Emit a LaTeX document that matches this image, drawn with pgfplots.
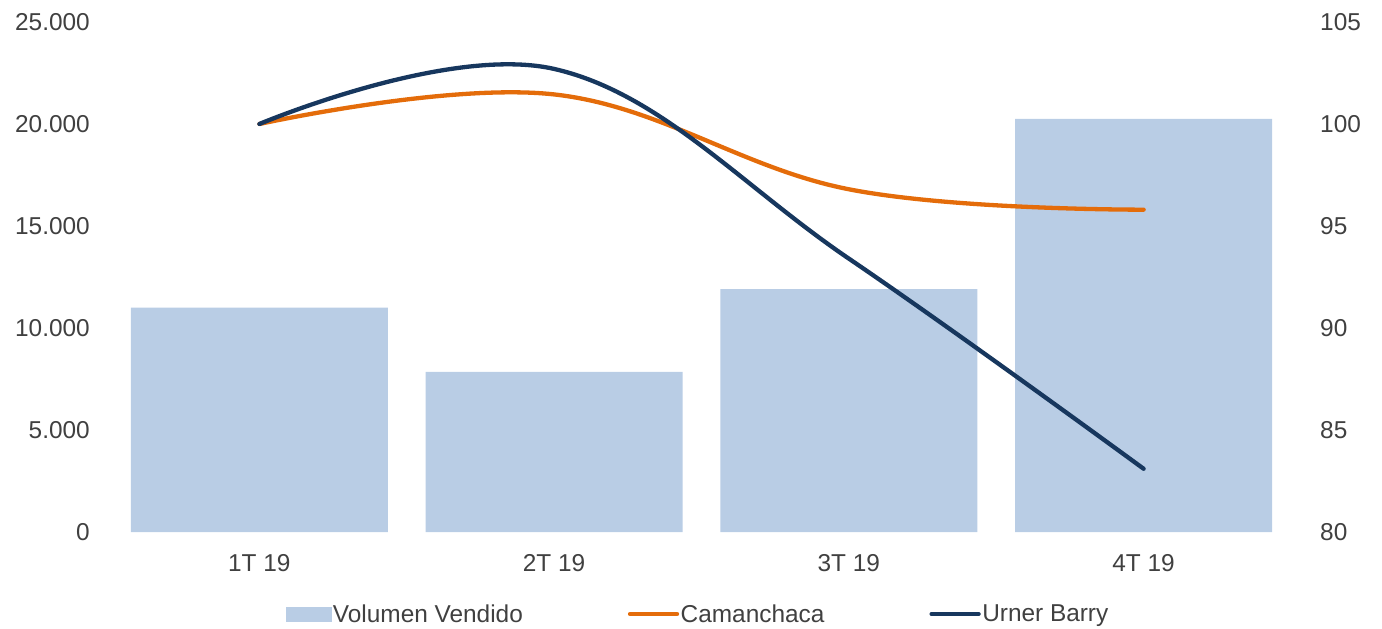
\documentclass[border=0pt]{standalone}
\usepackage{fontspec}
\setmainfont{Liberation Sans}
\usepackage{pgfplots}
\pgfplotsset{compat=1.18}
\definecolor{barc}{RGB}{185,205,229}
\definecolor{camc}{RGB}{228,108,10}
\definecolor{urnc}{RGB}{23,55,94}
\definecolor{txt}{RGB}{64,64,64}
\begin{document}
\begin{tikzpicture}[font=\fontsize{24.4bp}{29bp}\selectfont]
\path[use as bounding box] (-112bp,-97bp) rectangle (1270bp,532bp);
\pgfplotsset{
  base/.style={
    scale only axis, width=1179bp, height=510bp,
    xmin=-0.5, xmax=3.5,
    axis line style={draw=none},
    major tick length=0pt,
    tick label style={font=\fontsize{24.4bp}{29bp}\selectfont, text=txt, inner sep=0pt},
    /pgf/number format/assume math mode=true,
    clip=false,
  }
}
\begin{axis}[base,
  ymin=0, ymax=25000, ytick={0,5000,10000,15000,20000,25000},
  scaled y ticks=false,
  /pgf/number format/1000 sep={.},
  yticklabel style={xshift=-22bp},
  xtick={0,1,2,3}, xticklabels={1T 19,2T 19,3T 19,4T 19},
  xticklabel style={yshift=-22bp},
]
\addplot[ybar, bar width=257bp, fill=barc, draw=none] coordinates {(0,11000) (1,7850) (2,11900) (3,20250)};
\end{axis}
\begin{axis}[base,
  ymin=80, ymax=105, ytick={80,85,90,95,100,105},
  axis y line*=right, axis x line=none, xtick=\empty,
  yticklabel style={xshift=29bp},
  legend style={at={(0.497,-0.1608)}, anchor=center, draw=none, fill=none,
    font=\fontsize{24.4bp}{29bp}\selectfont, text=txt,
    nodes={inner sep=1.5bp},
    /tikz/every even column/.append style={column sep=103.5bp}},
  legend columns=3,
  legend image code/.code={\draw[#1, line width=4.3bp] (0bp,0bp) -- (47bp,0bp);},
]
\addlegendimage{legend image code/.code={\fill[barc] (0bp,-7bp) rectangle (45bp,7bp);}}
\addlegendentry{Volumen Vendido}
\addplot[camc, line width=4.3bp, smooth, tension=0.65, line cap=round] coordinates {(0,100) (1,101.45) (2,96.8) (3,95.8)};
\addlegendentry{Camanchaca}
\addplot[urnc, line width=4.3bp, smooth, tension=0.65, line cap=round] coordinates {(0,100) (1,102.7) (2,93.4) (3,83.1)};
\addlegendentry{Urner Barry}
\end{axis}
\end{tikzpicture}
\end{document}
